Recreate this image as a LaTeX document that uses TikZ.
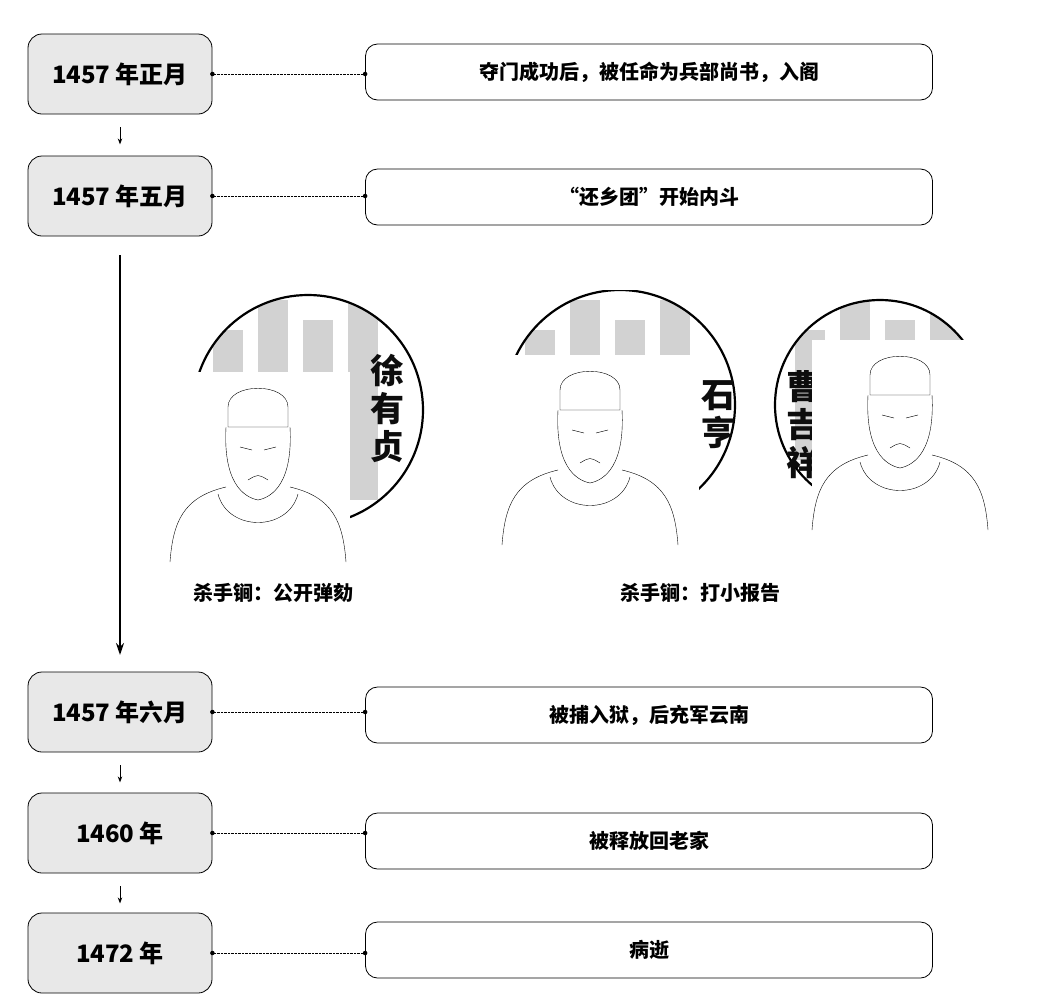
\documentclass[tikz,border=0pt]{standalone}
\usepackage{fontspec}
\newfontfamily\cjk{Noto Sans CJK SC}
\usetikzlibrary{arrows.meta}
\tikzset{
 yearbox/.style={draw,thick,fill=gray!18,rounded corners=14pt,minimum width=184pt,minimum height=80pt,font=\cjk\bfseries\fontsize{24}{26}\selectfont},
 eventbox/.style={draw,thick,rounded corners=12pt,minimum width=567pt,minimum height=56pt,font=\cjk\bfseries\fontsize{20}{22}\selectfont},
 link/.style={densely dotted,thin},
 dotend/.style={circle,fill,inner sep=1.6pt},
 shortarr/.style={-{Stealth[length=6pt]},thick},
 namefont/.style={font=\cjk\bfseries\fontsize{34}{36}\selectfont,gray!10!black},
 lab/.style={font=\cjk\bfseries\fontsize{20}{22}\selectfont}
}
\begin{document}
\begin{tikzpicture}[x=1pt,y=1pt]
\useasboundingbox (0,0) rectangle (1038,-1002);
\node[yearbox] (y1) at (120,-74) {1457 年正月};
\node[yearbox] (y2) at (120,-196) {1457 年五月};
\node[yearbox] (y3) at (120,-712) {1457 年六月};
\node[yearbox] (y4) at (120,-833) {1460 年};
\node[yearbox] (y5) at (120,-953) {1472 年};
\node[eventbox] (e1) at (649,-72) {夺门成功后，被任命为兵部尚书，入阁};
\node[eventbox] (e2) at (649,-197) {“还乡团”开始内斗};
\node[eventbox] (e3) at (649,-715) {被捕入狱，后充军云南};
\node[eventbox] (e4) at (649,-841) {被释放回老家};
\node[eventbox] (e5) at (649,-950) {病逝};
\foreach \a/\b in {y1/e1,y2/e2,y3/e3,y4/e4,y5/e5}{
 \draw[link] (\a.east) -- (\a.east -| \b.west);
 \node[dotend] at (\a.east) {}; \node[dotend] at (\a.east -| \b.west) {};
}
\draw[shortarr] ([yshift=-13pt]y1.south) -- ([yshift=-30pt]y1.south);
\draw[shortarr] ([yshift=-13pt]y3.south) -- ([yshift=-30pt]y3.south);
\draw[shortarr] ([yshift=-13pt]y4.south) -- ([yshift=-30pt]y4.south);
\coordinate (la) at (120,-255);
\coordinate (lb) at (120,-655);
\draw[-{Stealth[length=12pt,width=8pt]},line width=2pt] (la) -- (lb);
\foreach \cx/\cy/\r in {308/-410/115, 620/-405/115, 880/-405/105}{
 \begin{scope}
  \clip (\cx,\cy) circle (\r);
  \clip (\cx-\r,-290) rectangle (\cx+\r,-525);
  \fill[gray!35] (\cx-\r+20,-330) rectangle (\cx-\r+50,-460);
  \fill[gray!35] (\cx-\r+65,-300) rectangle (\cx-\r+95,-450);
  \fill[gray!35] (\cx-\r+110,-320) rectangle (\cx-\r+140,-470);
  \fill[gray!35] (\cx-\r+155,-300) rectangle (\cx-\r+185,-500);
 \end{scope}
 \begin{scope}
  \clip (\cx-\r-2,-290) rectangle (\cx+\r+2,-525);
  \draw[line width=2.2pt] (\cx,\cy) circle (\r);
 \end{scope}
}
\node[namefont,align=center,inner sep=0pt] (n1) at (387,-408) {徐\\[2pt]有\\[2pt]贞};
\node[namefont,align=center,inner sep=0pt] (n2) at (718,-415) {石\\[2pt]亨};
\node[namefont,align=center,inner sep=0pt] (n3) at (803,-425) {曹\\[2pt]吉\\[2pt]祥};
\foreach \imx/\imy/\imw/\imh/\hx in {162/-372/188/193/258, 487/-355/212/205/590, 812/-340/185/205/900}{
 \fill[white] (\imx,\imy) rectangle (\imx+\imw,\imy-\imh);
 \begin{scope}[thin]
  \draw (\hx-30,\imy-35) .. controls (\hx-30,\imy-10) and (\hx+30,\imy-10) .. (\hx+30,\imy-35) -- (\hx+30,\imy-55) -- (\hx-30,\imy-55) -- cycle;
  \draw (\hx-32,\imy-55) .. controls (\hx-35,\imy-110) and (\hx-15,\imy-125) .. (\hx,\imy-128) .. controls (\hx+15,\imy-125) and (\hx+35,\imy-110) .. (\hx+32,\imy-55);
  \draw (\hx-18,\imy-75) -- (\hx-6,\imy-78) (\hx+6,\imy-78) -- (\hx+18,\imy-75);
  \draw (\hx-10,\imy-108) .. controls (\hx,\imy-102) .. (\hx+10,\imy-108);
  \draw (\hx-32,\imy-115) .. controls (\hx-75,\imy-125) and (\hx-85,\imy-150) .. (\hx-88,\imy-190);
  \draw (\hx+32,\imy-115) .. controls (\hx+75,\imy-125) and (\hx+85,\imy-150) .. (\hx+88,\imy-190);
  \draw (\hx-40,\imy-122) .. controls (\hx-30,\imy-160) and (\hx+30,\imy-160) .. (\hx+40,\imy-122);
 \end{scope}
}
\node[lab] (l1) at (273,-593) {杀手锏：公开弹劾};
\node[lab] (l2) at (700,-593) {杀手锏：打小报告};
\end{tikzpicture}
\end{document}
